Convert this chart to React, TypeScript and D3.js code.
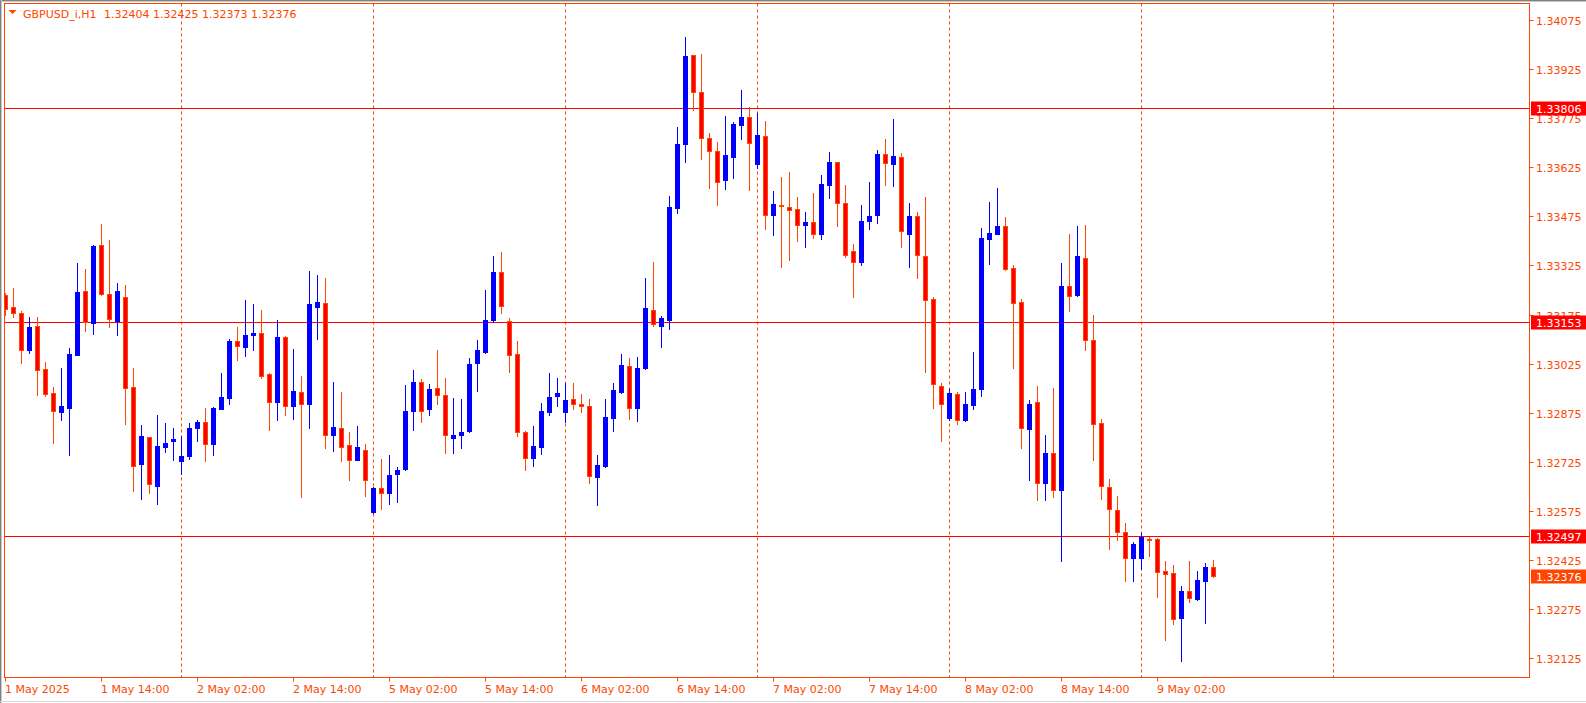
import React from "react";
import * as d3 from "d3";

// ---- data (GBPUSD_i, H1), bar 0 = 1 May 2025 02:00 ----
const opens = [
  1.33235, 1.33198, 1.33179, 1.33065, 1.33140, 1.33007, 1.32934, 1.32876, 1.32890, 1.33052,
  1.33247, 1.33150, 1.33388, 1.33239, 1.33156, 1.33230, 1.32953, 1.32719, 1.32799, 1.32652,
  1.32771, 1.32787, 1.32728, 1.32741, 1.32827, 1.32847, 1.32780, 1.32887, 1.32921, 1.33093,
  1.33077, 1.33111, 1.33118, 1.32994, 1.32906, 1.33107, 1.32894, 1.32937, 1.32902, 1.33199,
  1.33210, 1.32805, 1.32828, 1.32776, 1.32731, 1.32760, 1.32570, 1.32644, 1.32630, 1.32686,
  1.32701, 1.32881, 1.32970, 1.32885, 1.32950, 1.32929, 1.32796, 1.32805, 1.32819, 1.33026,
  1.33059, 1.33158, 1.33305, 1.33156, 1.33055, 1.32816, 1.32735, 1.32771, 1.32878, 1.32925,
  1.32878, 1.32917, 1.32901, 1.32896, 1.32678, 1.32711, 1.32860, 1.32939, 1.33018, 1.32888,
  1.33010, 1.33189, 1.33141, 1.33158, 1.33502, 1.33695, 1.33968, 1.33856, 1.33715, 1.33676,
  1.33585, 1.33658, 1.33756, 1.33779, 1.33634, 1.33720, 1.33478, 1.33510, 1.33505, 1.33498,
  1.33450, 1.33458, 1.33420, 1.33572, 1.33641, 1.33516, 1.33369, 1.33337, 1.33460, 1.33480,
  1.33666, 1.33634, 1.33658, 1.33422, 1.33476, 1.33354, 1.33223, 1.32957, 1.32860, 1.32931,
  1.32851, 1.32897, 1.32946, 1.33407, 1.33421, 1.33446, 1.33317, 1.33214, 1.32824, 1.32908,
  1.32661, 1.32751, 1.32637, 1.33263, 1.33235, 1.33348, 1.33097, 1.32844, 1.32648, 1.32578,
  1.32510, 1.32429, 1.32430, 1.32489, 1.32489, 1.32390, 1.32385, 1.32246, 1.32330, 1.32305,
  1.32359, 1.32404,
];
const highs = [
  1.33240, 1.33255, 1.33185, 1.33168, 1.33168, 1.33030, 1.32954, 1.33011, 1.33073, 1.33333,
  1.33315, 1.33388, 1.33451, 1.33404, 1.33271, 1.33266, 1.33011, 1.32837, 1.32800, 1.32868,
  1.32844, 1.32828, 1.32804, 1.32844, 1.32851, 1.32890, 1.32891, 1.32996, 1.33100, 1.33138,
  1.33219, 1.33207, 1.33189, 1.32996, 1.33158, 1.33109, 1.33069, 1.32987, 1.33308, 1.33296,
  1.33288, 1.32970, 1.32938, 1.32817, 1.32835, 1.32780, 1.32646, 1.32734, 1.32746, 1.32710,
  1.32959, 1.33006, 1.32977, 1.32963, 1.33067, 1.32981, 1.32920, 1.32917, 1.33042, 1.33097,
  1.33250, 1.33354, 1.33366, 1.33165, 1.33095, 1.32819, 1.32835, 1.32905, 1.32996, 1.32981,
  1.32966, 1.32966, 1.32933, 1.32917, 1.32745, 1.32917, 1.32966, 1.33055, 1.33042, 1.33045,
  1.33288, 1.33336, 1.33170, 1.33537, 1.33748, 1.34024, 1.33969, 1.33971, 1.33730, 1.33703,
  1.33783, 1.33764, 1.33861, 1.33809, 1.33792, 1.33767, 1.33553, 1.33596, 1.33610, 1.33535,
  1.33488, 1.33547, 1.33601, 1.33673, 1.33642, 1.33571, 1.33390, 1.33509, 1.33580, 1.33679,
  1.33711, 1.33774, 1.33670, 1.33516, 1.33487, 1.33535, 1.33227, 1.32965, 1.32947, 1.32939,
  1.32938, 1.33061, 1.33439, 1.33518, 1.33563, 1.33474, 1.33327, 1.33223, 1.32914, 1.32955,
  1.32808, 1.32950, 1.33331, 1.33421, 1.33446, 1.33449, 1.33174, 1.32856, 1.32672, 1.32621,
  1.32538, 1.32480, 1.32508, 1.32496, 1.32490, 1.32422, 1.32409, 1.32345, 1.32422, 1.32390,
  1.32416, 1.32425,
];
const lows = [
  1.33172, 1.33166, 1.33026, 1.33056, 1.32928, 1.32925, 1.32783, 1.32851, 1.32745, 1.33050,
  1.33126, 1.33116, 1.33235, 1.33138, 1.33113, 1.32841, 1.32634, 1.32612, 1.32629, 1.32597,
  1.32755, 1.32729, 1.32686, 1.32734, 1.32787, 1.32726, 1.32745, 1.32886, 1.32900, 1.33036,
  1.33047, 1.33065, 1.32981, 1.32821, 1.32853, 1.32868, 1.32856, 1.32616, 1.32828, 1.33099,
  1.32767, 1.32758, 1.32726, 1.32670, 1.32730, 1.32621, 1.32569, 1.32581, 1.32596, 1.32603,
  1.32700, 1.32823, 1.32845, 1.32867, 1.32902, 1.32750, 1.32750, 1.32766, 1.32815, 1.32942,
  1.33058, 1.33153, 1.33181, 1.32998, 1.32802, 1.32698, 1.32713, 1.32747, 1.32867, 1.32894,
  1.32845, 1.32887, 1.32876, 1.32661, 1.32591, 1.32709, 1.32820, 1.32935, 1.32856, 1.32848,
  1.33009, 1.33140, 1.33075, 1.33132, 1.33484, 1.33642, 1.33801, 1.33650, 1.33563, 1.33511,
  1.33559, 1.33591, 1.33713, 1.33557, 1.33622, 1.33435, 1.33419, 1.33321, 1.33343, 1.33401,
  1.33380, 1.33410, 1.33405, 1.33532, 1.33446, 1.33352, 1.33227, 1.33325, 1.33435, 1.33456,
  1.33572, 1.33569, 1.33382, 1.33321, 1.33286, 1.33000, 1.32890, 1.32787, 1.32851, 1.32841,
  1.32850, 1.32885, 1.32925, 1.33328, 1.33420, 1.33312, 1.33012, 1.32766, 1.32668, 1.32609,
  1.32607, 1.32616, 1.32420, 1.33187, 1.33232, 1.33065, 1.32731, 1.32612, 1.32457, 1.32486,
  1.32359, 1.32359, 1.32398, 1.32437, 1.32312, 1.32181, 1.32230, 1.32115, 1.32296, 1.32303,
  1.32233, 1.32373,
];
const closes = [
  1.33193, 1.33179, 1.33065, 1.33137, 1.33004, 1.32933, 1.32880, 1.32896, 1.33055, 1.33244,
  1.33153, 1.33385, 1.33238, 1.33160, 1.33247, 1.32949, 1.32713, 1.32803, 1.32656, 1.32774,
  1.32782, 1.32795, 1.32743, 1.32829, 1.32847, 1.32780, 1.32889, 1.32924, 1.33095, 1.33079,
  1.33113, 1.33118, 1.32986, 1.32906, 1.33107, 1.32894, 1.32941, 1.32901, 1.33207, 1.33214,
  1.32805, 1.32831, 1.32771, 1.32731, 1.32770, 1.32670, 1.32645, 1.32630, 1.32685, 1.32699,
  1.32880, 1.32970, 1.32881, 1.32947, 1.32928, 1.32805, 1.32807, 1.32816, 1.33024, 1.33067,
  1.33158, 1.33305, 1.33202, 1.33052, 1.32815, 1.32737, 1.32774, 1.32880, 1.32924, 1.32935,
  1.32914, 1.32900, 1.32894, 1.32680, 1.32715, 1.32861, 1.32945, 1.33020, 1.32890, 1.33011,
  1.33195, 1.33145, 1.33165, 1.33504, 1.33697, 1.33966, 1.33856, 1.33716, 1.33674, 1.33579,
  1.33663, 1.33758, 1.33779, 1.33698, 1.33724, 1.33478, 1.33514, 1.33506, 1.33496, 1.33450,
  1.33458, 1.33422, 1.33575, 1.33641, 1.33515, 1.33358, 1.33337, 1.33461, 1.33476, 1.33666,
  1.33638, 1.33659, 1.33429, 1.33476, 1.33356, 1.33219, 1.32962, 1.32900, 1.32935, 1.32851,
  1.32901, 1.32947, 1.33409, 1.33425, 1.33446, 1.33315, 1.33211, 1.32827, 1.32901, 1.32661,
  1.32751, 1.32637, 1.33263, 1.33232, 1.33354, 1.33096, 1.32840, 1.32652, 1.32579, 1.32509,
  1.32429, 1.32474, 1.32495, 1.32485, 1.32389, 1.32382, 1.32243, 1.32329, 1.32307, 1.32364,
  1.32404, 1.32376,
];

const timeTickLabels = [
  "1 May 2025", "1 May 14:00", "2 May 02:00", "2 May 14:00", "5 May 02:00", "5 May 14:00",
  "6 May 02:00", "6 May 14:00", "7 May 02:00", "7 May 14:00", "8 May 02:00", "8 May 14:00",
  "9 May 02:00",
];
const timeTickBars = [0, 12, 24, 36, 48, 60, 72, 84, 96, 108, 120, 132, 144];
const daySeparatorBars = [22, 46, 70, 94, 118, 142, 166];

const priceTicks = [
  1.34075, 1.33925, 1.33775, 1.33625, 1.33475, 1.33325, 1.33175, 1.33025, 1.32875,
  1.32725, 1.32575, 1.32425, 1.32275, 1.32125,
];
const levelLines = [1.33806, 1.33153, 1.32497];
const bidPrice = 1.32376;
const symbolTitle = "GBPUSD_i,H1";

// ---- layout ----
const W = 1586;
const H = 703;
const frame = { left: 4.5, top: 3.5, right: 1529.5, bottom: 677.5 };
const AXIS = "#FF4500";
const BEAR_FILL = "#FF0000";
const BEAR_LINE = "#FF4500";
const BULL = "#0000FF";
const FONT = "'DejaVu Sans', Verdana, sans-serif";

export default function App() {
  const x = d3.scaleLinear().domain([0, 190]).range([5.5, 5.5 + 8 * 190]);
  const y = d3.scaleLinear().domain([1.32125, 1.34075]).range([657.85, 20.2]);

  const bars = d3.range(opens.length).map((i) => ({
    i,
    o: opens[i],
    h: highs[i],
    l: lows[i],
    c: closes[i],
  }));

  const fmt = d3.format(".5f");

  return (
    <svg
      width={W}
      height={H}
      style={{ position: "absolute", left: 0, top: 0, background: "#fff" }}
      fontFamily={FONT}
      fontSize={11}
    >
      <defs>
        <clipPath id="plotClip">
          <rect x={5} y={4} width={frame.right - 5} height={frame.bottom - 4} />
        </clipPath>
      </defs>
      <rect x={0} y={0} width={W} height={H} fill="#fff" />
      {/* window edges */}
      <line x1={0} x2={W} y1={0.5} y2={0.5} stroke="#808080" />
      <line x1={0} x2={W} y1={1.5} y2={1.5} stroke="#c8c8c8" />
      <line x1={0.5} x2={0.5} y1={0} y2={H} stroke="#808080" />
      <line x1={1.5} x2={1.5} y1={0} y2={H} stroke="#c8c8c8" />
      <line x1={0} x2={W} y1={701.5} y2={701.5} stroke="#d8d8d8" />

      {/* day separators */}
      <g clipPath="url(#plotClip)">
        {daySeparatorBars.map((b) => (
          <line
            key={"sep" + b}
            x1={x(b)}
            x2={x(b)}
            y1={frame.top}
            y2={frame.bottom}
            stroke={AXIS}
            strokeDasharray="3,3"
          />
        ))}
      </g>

      {/* horizontal level lines */}
      {levelLines.map((p) => (
        <line
          key={"lvl" + p}
          x1={frame.left}
          x2={frame.right}
          y1={Math.round(y(p)) + 0.5}
          y2={Math.round(y(p)) + 0.5}
          stroke="#FF0000"
        />
      ))}

      {/* candles */}
      <g clipPath="url(#plotClip)">
        {bars.map((d) => {
          const cx = x(d.i);
          const bull = d.c >= d.o;
          const top = Math.round(y(Math.max(d.o, d.c)));
          const bot = Math.round(y(Math.min(d.o, d.c)));
          const hgt = Math.max(1, bot - top);
          return (
            <g key={d.i}>
              <line
                x1={cx}
                x2={cx}
                y1={Math.round(y(d.h))}
                y2={Math.round(y(d.l)) + 1}
                stroke={bull ? BULL : BEAR_LINE}
                strokeWidth={1}
              />
              <rect
                x={cx - 2}
                y={top + 0.5}
                width={4}
                height={hgt}
                fill={bull ? BULL : BEAR_FILL}
                stroke={bull ? BULL : BEAR_LINE}
                strokeWidth={1}
              />
            </g>
          );
        })}
      </g>

      {/* plot frame */}
      <rect
        x={frame.left}
        y={frame.top}
        width={frame.right - frame.left}
        height={frame.bottom - frame.top}
        fill="none"
        stroke={AXIS}
      />

      {/* price axis */}
      {priceTicks.map((p) => {
        const py = Math.round(y(p)) + 0.5;
        return (
          <g key={"pt" + p}>
            <line x1={frame.right} x2={frame.right + 4} y1={py} y2={py} stroke={AXIS} />
            <text x={1536} y={py + 4} fill={AXIS}>
              {fmt(p)}
            </text>
          </g>
        );
      })}

      {/* level labels */}
      {levelLines.map((p) => {
        const py = Math.round(y(p)) + 0.5;
        return (
          <g key={"ll" + p}>
            <rect x={1531} y={py - 7} width={55} height={14} fill="#FF0000" />
            <text x={1536} y={py + 4} fill="#fff">
              {fmt(p)}
            </text>
          </g>
        );
      })}
      {(() => {
        const py = Math.round(y(bidPrice)) + 0.5;
        return (
          <g>
            <rect x={1531} y={py - 7} width={55} height={14} fill="#FF4500" />
            <text x={1536} y={py + 4} fill="#fff">
              {fmt(bidPrice)}
            </text>
          </g>
        );
      })()}

      {/* time axis */}
      {timeTickBars.map((b, k) => (
        <g key={"tt" + b}>
          <line x1={x(b)} x2={x(b)} y1={frame.bottom} y2={frame.bottom + 4} stroke={AXIS} />
          <text x={x(b) - 0.5} y={693} fill={AXIS}>
            {timeTickLabels[k]}
          </text>
        </g>
      ))}

      {/* title */}
      <polygon points="8.5,10 16.5,10 12.5,14" fill={AXIS} />
      <text x={23} y={18} fill={AXIS}>
        {symbolTitle}
      </text>
      <text x={104} y={18} fill={AXIS}>
        {[opens[opens.length - 1], highs[highs.length - 1], lows[lows.length - 1], closes[closes.length - 1]]
          .map((v) => fmt(v))
          .join(" ")}
      </text>
    </svg>
  );
}
